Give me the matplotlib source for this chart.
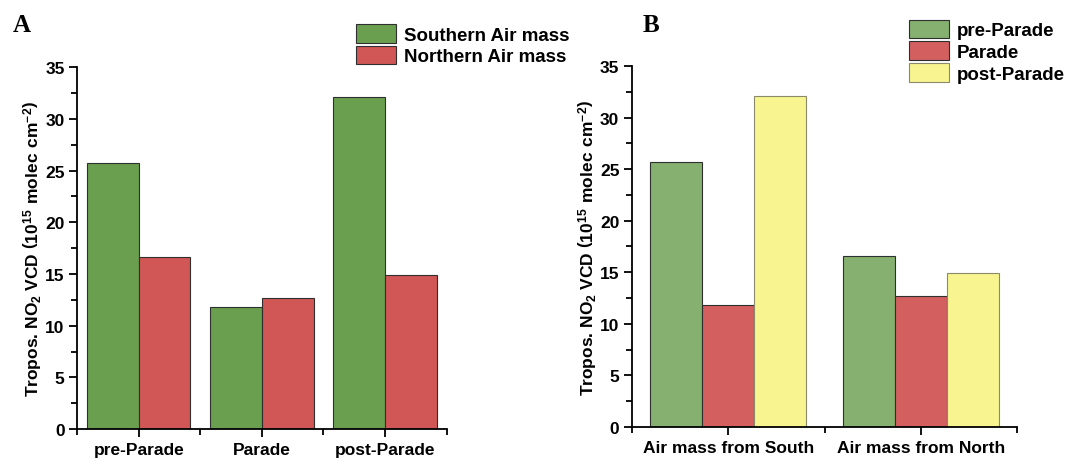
import numpy as np
import matplotlib.pyplot as plt
from matplotlib.ticker import MultipleLocator, FixedLocator

plt.rcParams['font.family'] = ['Liberation Sans', 'DejaVu Sans']
plt.rcParams['font.weight'] = 'bold'
plt.rcParams['mathtext.fontset'] = 'custom'
plt.rcParams['mathtext.rm'] = 'Liberation Sans:bold'
plt.rcParams['mathtext.default'] = 'rm'

# panel A data
periods = ['pre-Parade', 'Parade', 'post-Parade']
southern = [25.7, 11.8, 32.1]
northern = [16.6, 12.7, 14.9]

# panel B data
air_masses = ['Air mass from South', 'Air mass from North']
pre_parade = [25.7, 16.6]
parade = [11.8, 12.7]
post_parade = [32.1, 14.9]

ylabel = r'Tropos. NO$_2$ VCD $\left(\mathrm{10^{15}\ molec\ cm^{-2}}\right)$'

fig = plt.figure(figsize=(10.71, 4.60), dpi=100)
axA = fig.add_axes([0.072, 0.065, 0.345, 0.787])
axB = fig.add_axes([0.590, 0.070, 0.360, 0.784])


def style_axis(ax, nx):
    for s in ['top', 'right']:
        ax.spines[s].set_visible(False)
    for s in ['left', 'bottom']:
        ax.spines[s].set_linewidth(1.3)
    ax.set_ylim(0, 35)
    ax.set_xlim(-0.5, nx - 0.5)
    ax.yaxis.set_major_locator(MultipleLocator(5))
    ax.yaxis.set_minor_locator(MultipleLocator(2.5))
    ax.xaxis.set_minor_locator(FixedLocator(np.arange(nx + 1) - 0.5))
    ax.tick_params(axis='both', which='major', direction='out', length=6, width=1.3, labelsize=12.5)
    ax.tick_params(axis='y', which='major', pad=3)
    ax.tick_params(axis='both', which='minor', direction='out', length=4, width=1.3)
    ax.set_ylabel(ylabel, fontsize=12.5, fontweight='bold', labelpad=1)


leg_kw = dict(loc='upper left', frameon=False, fontsize=13.5, handlelength=2.1,
              handleheight=1.15, labelspacing=0.12, handletextpad=0.45, borderaxespad=0)

# panel A
x = np.arange(len(periods))
w = 0.42
axA.bar(x - w / 2, southern, w, color='#6a9f50', edgecolor='#2f2f2f', linewidth=0.8, label='Southern Air mass')
axA.bar(x + w / 2, northern, w, color='#d15656', edgecolor='#2f2f2f', linewidth=0.8, label='Northern Air mass')
axA.set_xticks(x)
axA.set_xticklabels(periods)
style_axis(axA, len(periods))
axA.legend(bbox_to_anchor=(0.735, 1.14), **leg_kw)
fig.text(0.012, 0.93, 'A', family='Liberation Serif', fontsize=18, fontweight='bold')

# panel B
xb = np.arange(len(air_masses))
wb = 0.27
axB.bar(xb - wb, pre_parade, wb, color='#85b06f', edgecolor='#2f2f2f', linewidth=0.8, label='pre-Parade')
axB.bar(xb, parade, wb, color='#d35f5f', edgecolor='#2f2f2f', linewidth=0.8, label='Parade')
axB.bar(xb + wb, post_parade, wb, color='#f8f48f', edgecolor='#8a8a6a', linewidth=0.8, label='post-Parade')
axB.set_xticks(xb)
axB.set_xticklabels(air_masses)
style_axis(axB, len(air_masses))
axB.legend(bbox_to_anchor=(0.70, 1.15), **leg_kw)
fig.text(0.600, 0.93, 'B', family='Liberation Serif', fontsize=18, fontweight='bold')

fig.savefig('out.png', dpi=100)
